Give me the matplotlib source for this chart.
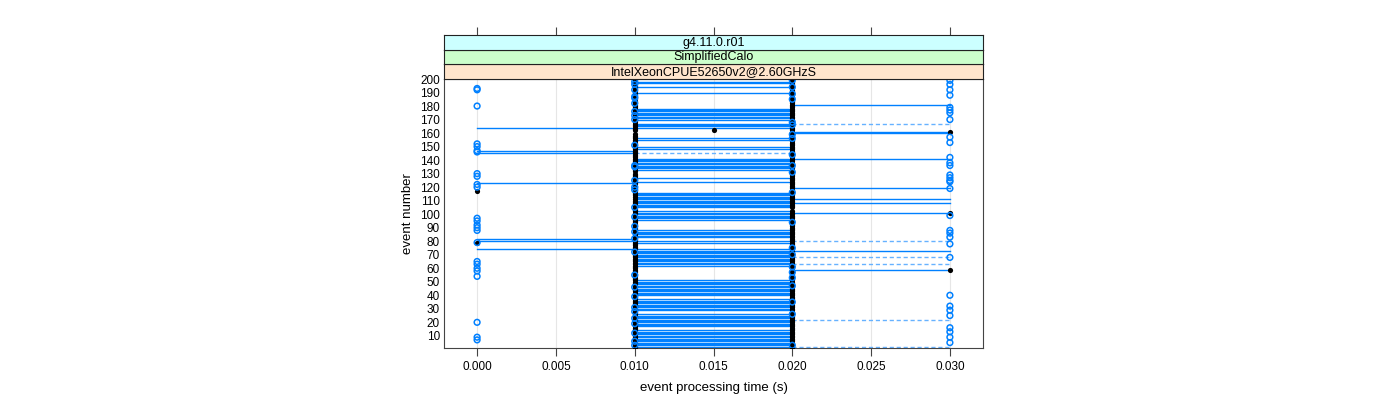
import matplotlib
matplotlib.use('Agg')
import matplotlib.pyplot as plt

plt.rcParams['font.family'] = ['Liberation Sans', 'DejaVu Sans']

# strip labels (outer to inner)
strips = ['g4.11.0.r01', 'SimplifiedCalo', 'IntelXeonCPUE52650v2@2.60GHzS']
strip_colors = ['#ccffff', '#ccffcc', '#ffe5cc']

# horizontal segments: events joined between two times
seg_mid_solid = [198, 197, 194, 190, 178, 177, 176, 175, 174, 173, 172, 171, 170,
                 167, 166, 165, 164, 156, 155, 150, 148, 141, 140, 139, 138, 137,
                 136, 135, 134, 133, 127, 124, 116, 115, 114, 113, 112, 111, 110,
                 109, 108, 107, 106, 105, 102, 101, 100, 99, 98, 97, 96, 88, 87,
                 86, 85, 84, 83, 80, 79, 74, 73, 72, 71, 70, 69, 68, 67, 66, 65,
                 64, 63, 62, 51, 50, 49, 48, 47, 46, 45, 44, 43, 42, 41, 40, 37,
                 36, 35, 34, 33, 32, 31, 30, 29, 26, 25, 24, 23, 22, 21, 20, 19,
                 18, 17, 14, 13, 12, 11, 10, 9, 8, 7, 6, 5, 4, 3, 2]
seg_mid_dashed = [145]
seg_left_solid = [164, 147, 145, 123, 82, 80, 74]
seg_right_solid = [181, 161, 160, 141, 119, 111, 108, 101, 73, 59]
seg_right_dashed = [167, 80, 68, 63, 22, 2]

# open blue points: (event, time)
blue_t000 = [193, 192, 180, 152, 150, 147, 146, 130, 128, 122, 120, 97, 95, 92,
             90, 88, 79, 65, 63, 60, 58, 54, 20, 9, 7]
blue_t010 = [198, 196, 192, 187, 186, 182, 176, 173, 170, 151, 136, 135, 125,
             120, 118, 105, 98, 91, 87, 82, 72, 55, 46, 39, 31, 28, 23, 19, 12,
             6, 3]
blue_t020 = [199, 194, 189, 185, 168, 166, 159, 156, 144, 136, 131, 116, 94,
             75, 70, 61, 57, 53, 47, 35, 26, 3]
blue_t030 = [199, 196, 192, 188, 179, 177, 175, 170, 157, 153, 142, 138, 136,
             129, 127, 125, 124, 119, 99, 88, 86, 83, 78, 68, 40, 32, 29, 25,
             16, 13, 9, 5]

# filled black points
black_t000 = [117, 79]
black_t010 = [e for e in range(1, 201) if e not in (161, 160, 131, 112)]
black_t015 = [162]
black_t020 = [e for e in range(1, 201) if e not in (104, 103)]
black_t030 = [161, 101, 59]

x_ticks = [0.000, 0.005, 0.010, 0.015, 0.020, 0.025, 0.030]
y_ticks = list(range(10, 201, 10))

blue = '#0080ff'
light_blue = '#66b2ff'

fig = plt.figure(figsize=(14, 4), dpi=100)
ax = fig.add_axes([444 / 1400, 1 - 348 / 400, 539 / 1400, 269 / 400])

for xv in x_ticks:
    ax.axvline(xv, color='#e6e6e6', lw=0.8, zorder=0)

lw = 1.0
for e in seg_mid_solid:
    ax.plot([0.010, 0.020], [e, e], color=blue, lw=lw, zorder=2)
for e in seg_mid_dashed:
    ax.plot([0.010, 0.020], [e, e], color=light_blue, lw=lw, ls=(0, (3, 2)), zorder=2)
for e in seg_left_solid:
    ax.plot([0.000, 0.010], [e, e], color=blue, lw=lw, zorder=2)
for e in seg_right_solid:
    ax.plot([0.020, 0.030], [e, e], color=blue, lw=lw, zorder=2)
for e in seg_right_dashed:
    ax.plot([0.020, 0.030], [e, e], color=light_blue, lw=lw, ls=(0, (3, 2)), zorder=2)

for t, evs in [(0.000, black_t000), (0.010, black_t010), (0.015, black_t015),
               (0.020, black_t020), (0.030, black_t030)]:
    ax.scatter([t] * len(evs), evs, s=14, color='black', zorder=3, linewidths=0)

for t, evs in [(0.000, blue_t000), (0.010, blue_t010), (0.020, blue_t020),
               (0.030, blue_t030)]:
    ax.scatter([t] * len(evs), evs, s=17, facecolors='none', edgecolors=blue,
               linewidths=1.1, zorder=4)

ax.set_xlim(-0.0021, 0.0321)
ax.set_ylim(1, 200)
ax.set_xticks(x_ticks)
ax.set_xticklabels(['%.3f' % v for v in x_ticks])
ax.set_yticks(y_ticks)
ax.tick_params(axis='x', direction='out', length=6, labelsize=8.5, color='#444444')
ax.tick_params(axis='y', direction='out', length=0, labelsize=8.5, pad=3)
for sp in ax.spines.values():
    sp.set_color('#444444')
ax.set_xlabel('event processing time (s)', fontsize=9.5, labelpad=6)
ax.set_ylabel('event number', fontsize=9.5, labelpad=4)

# strips above the panel
strip_h = 14.5 / 400
top = 1 - 78.5 / 400
for i, (lab, col) in enumerate(zip(reversed(strips), reversed(strip_colors))):
    sax = fig.add_axes([444 / 1400, top + i * strip_h, 539 / 1400, strip_h],
                       sharex=ax)
    sax.set_facecolor(col)
    sax.set_yticks([])
    sax.text(0.5, 0.45, lab, transform=sax.transAxes, ha='center', va='center',
             fontsize=9)
    for sp in sax.spines.values():
        sp.set_color('#222222')
        sp.set_linewidth(0.8)
    if i == len(strips) - 1:
        sax.tick_params(axis='x', bottom=False, labelbottom=False, top=True,
                        labeltop=False, direction='out', length=6,
                        color='#444444')
    else:
        sax.tick_params(axis='x', bottom=False, labelbottom=False)

fig.savefig('out.png', dpi=100)
